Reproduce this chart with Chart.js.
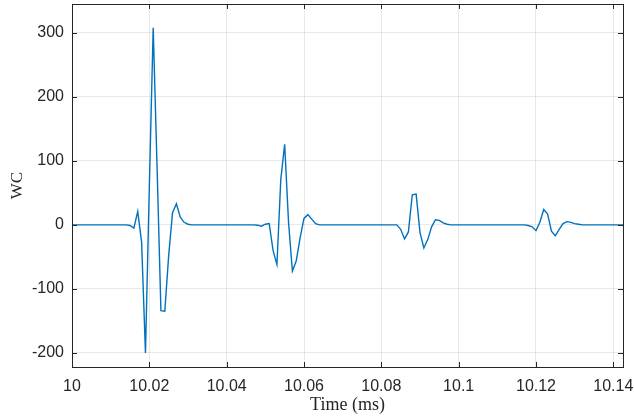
<!DOCTYPE html>
<html>
<head>
<meta charset="utf-8">
<script src="https://cdn.jsdelivr.net/npm/chart.js@4.4.1/dist/chart.umd.min.js"></script>
<style>
  html, body { margin: 0; padding: 0; background: #fff; }
  #wrap { width: 634px; height: 418px; }
</style>
</head>
<body>
<div id="wrap"><canvas id="c" width="634" height="418"></canvas></div>
<script>
// WC trace (flat stretches are zero)
var timeMs = [
  10.000, 10.014, 10.015, 10.016, 10.017, 10.018, 10.019, 10.020, 10.021, 10.022,
  10.023, 10.024, 10.025, 10.026, 10.027, 10.028, 10.029, 10.030, 10.031,
  10.047, 10.048, 10.049, 10.050, 10.051, 10.052, 10.053, 10.054, 10.055, 10.056,
  10.057, 10.058, 10.059, 10.060, 10.061, 10.062, 10.063, 10.064,
  10.083, 10.084, 10.085, 10.086, 10.087, 10.088, 10.089, 10.090, 10.091, 10.092,
  10.093, 10.094, 10.095, 10.096, 10.097, 10.098,
  10.117, 10.118, 10.119, 10.120, 10.121, 10.122, 10.123, 10.124, 10.125, 10.126,
  10.127, 10.128, 10.129, 10.130, 10.131, 10.132, 10.1425
];
var wcValues = [
  0, 0, -1, -5, 21, -27, -200, 60, 308, 90,
  -134, -135, -48, 19, 33, 12, 4, 1, 0,
  0, -0.5, -2, 1, 2, -40, -62, 71, 126, 4,
  -72, -56, -20, 10, 16, 9, 2, 0,
  0, 0, -7, -22, -11, 47, 48, -12, -36, -23,
  -3, 8, 7, 3, 1, 0,
  0, -1, -3, -9, 4, 24, 17, -10, -17, -7,
  2, 5, 4, 2, 1, 0, 0
];
var xRange = [10, 10.1425];
var yRange = [-222, 345];
var xTickStep = 0.02;
var yTickStep = 100;

var axisColor = '#262626';
var lineColor = '#0072BD';

var points = timeMs.map(function(t, i) { return { x: t, y: wcValues[i] }; });

// MATLAB-like box with inward ticks on all four sides
var boxPlugin = {
  id: 'boxTicks',
  afterDraw: function(chart) {
    var ctx = chart.ctx, a = chart.chartArea;
    var xs = chart.scales.x, ys = chart.scales.y;
    var len = 5;
    ctx.save();
    ctx.strokeStyle = axisColor;
    ctx.lineWidth = 1;
    ctx.beginPath();
    xs.ticks.forEach(function(t) {
      var px = Math.round(xs.getPixelForValue(t.value)) + 0.5;
      ctx.moveTo(px, a.bottom); ctx.lineTo(px, a.bottom - len);
      ctx.moveTo(px, a.top); ctx.lineTo(px, a.top + len);
    });
    ys.ticks.forEach(function(t) {
      var py = Math.round(ys.getPixelForValue(t.value)) + 0.5;
      ctx.moveTo(a.left, py); ctx.lineTo(a.left + len, py);
      ctx.moveTo(a.right, py); ctx.lineTo(a.right - len, py);
    });
    ctx.stroke();
    ctx.strokeRect(Math.round(a.left) + 0.5, Math.round(a.top) + 0.5,
                   Math.round(a.right - a.left), Math.round(a.bottom - a.top));
    ctx.restore();
  }
};

new Chart(document.getElementById('c'), {
  type: 'line',
  data: {
    datasets: [{
      data: points,
      borderColor: lineColor,
      borderWidth: 1.4,
      pointRadius: 0,
      tension: 0,
      fill: false
    }]
  },
  options: {
    responsive: false,
    animation: false,
    parsing: false,
    layout: { padding: { top: 4, right: 11, left: 0, bottom: 0 } },
    plugins: { legend: { display: false }, tooltip: { enabled: false } },
    scales: {
      x: {
        type: 'linear',
        min: xRange[0],
        max: xRange[1],
        afterFit: function(s) { s.height = 51; s.paddingLeft = 0; s.paddingRight = 0; },
        border: { display: false },
        grid: { color: 'rgba(38,38,38,0.1)', drawTicks: false },
        ticks: {
          stepSize: xTickStep,
          includeBounds: false,
          maxRotation: 0,
          autoSkip: false,
          padding: 10,
          color: axisColor,
          font: { family: 'Liberation Sans, Arial, sans-serif', size: 16 },
          callback: function(v) { return String(Number(v.toFixed(3))); }
        },
        title: {
          display: true,
          text: 'Time (ms)',
          color: axisColor,
          font: { family: 'Liberation Serif, Times New Roman, serif', size: 18 },
          padding: { top: 0, bottom: 2 }
        }
      },
      y: {
        type: 'linear',
        min: yRange[0],
        max: yRange[1],
        afterFit: function(s) { s.width = 72; s.paddingTop = 0; s.paddingBottom = 0; },
        border: { display: false },
        grid: { color: 'rgba(38,38,38,0.1)', drawTicks: false },
        ticks: {
          stepSize: yTickStep,
          includeBounds: false,
          padding: 8,
          color: axisColor,
          font: { family: 'Liberation Sans, Arial, sans-serif', size: 16 }
        },
        title: {
          display: true,
          text: 'WC',
          color: axisColor,
          font: { family: 'Liberation Serif, Times New Roman, serif', size: 17 },
          padding: { top: 7, bottom: 0 }
        }
      }
    }
  },
  plugins: [boxPlugin]
});
</script>
</body>
</html>
